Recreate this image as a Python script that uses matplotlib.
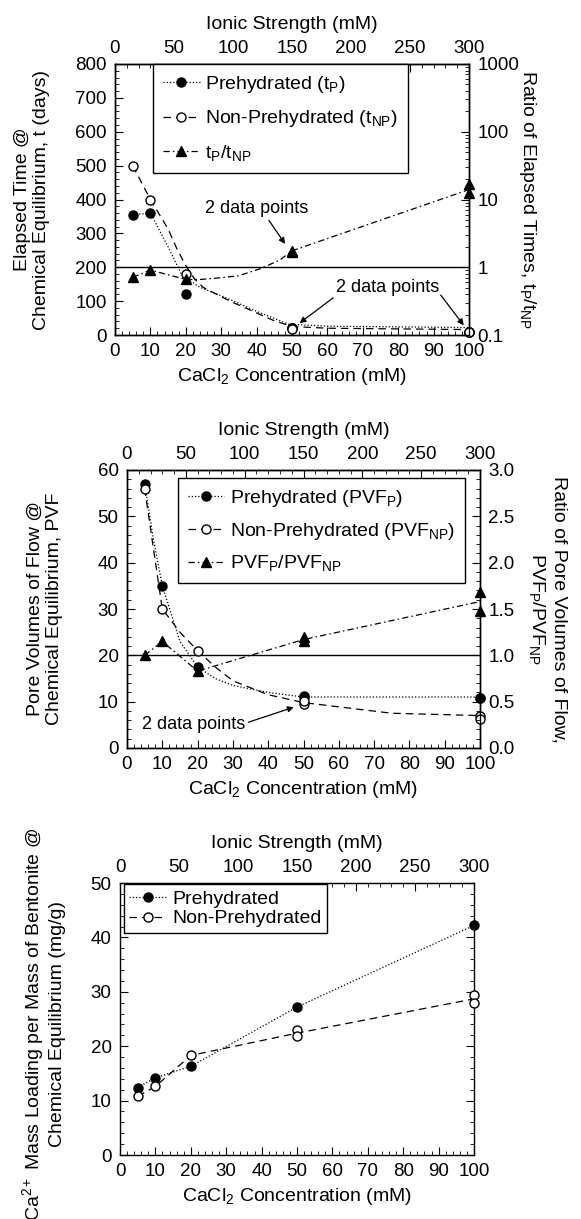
import matplotlib
matplotlib.use('Agg')
import matplotlib.pyplot as plt
from matplotlib.lines import Line2D
from matplotlib.ticker import MultipleLocator, LogLocator, NullFormatter, FuncFormatter, FormatStrFormatter

plt.rcParams['font.family'] = ['Liberation Sans', 'DejaVu Sans']
plt.rcParams['mathtext.fontset'] = 'custom'
plt.rcParams['mathtext.rm'] = 'Liberation Sans'
plt.rcParams['mathtext.it'] = 'Liberation Sans'
plt.rcParams['mathtext.default'] = 'regular'

# ---------------- data ----------------
# Panel 1: elapsed time (days) and ratio
t_x = [5, 10, 20, 50, 50, 100, 100]
t_p = [355, 360, 120, 22, 20, 10, 9]
t_np = [500, 400, 180, 20, 18, 9, 8]
t_ratio = [0.71, 0.91, 0.68, 1.75, 1.70, 17, 12.5]
# fitted curves
t_p_fit_x = [5, 10, 15, 19, 24, 32, 40, 49, 60, 80, 100]
t_p_fit_y = [355, 360, 260, 175, 141, 107, 70, 32, 26, 24, 22]
t_np_fit_x = [5, 10, 15, 17.5, 20, 22.5, 25, 32.5, 40, 45, 50, 60, 80, 100]
t_np_fit_y = [500, 400, 313, 254, 205, 165, 140, 100, 65, 42, 25, 20, 18, 16]
t_r_fit_x = [5, 10, 20, 24, 30, 35, 41, 46.6, 50, 100]
t_r_fit_y = [0.71, 0.91, 0.66, 0.66, 0.70, 0.75, 0.95, 1.28, 1.75, 14]

# Panel 2: pore volumes of flow and ratio
pvf_x = [5, 10, 20, 50, 50, 100, 100]
pvf_p = [57, 35, 17.5, 11.2, 11.0, 10.8, 10.8]
pvf_np = [56, 30, 21, 9.5, 10.2, 7.0, 6.2]
pvf_ratio = [1.0, 1.15, 0.83, 1.2, 1.15, 1.68, 1.48]
pvf_p_fit_x = [5, 7.5, 10, 15, 20, 25, 30, 40, 50, 100]
pvf_p_fit_y = [57, 45, 35, 23, 17.5, 15, 13.5, 12, 11, 11]
pvf_np_fit_x = [5, 10, 15, 20, 25, 30, 40, 50, 75, 100]
pvf_np_fit_y = [56, 30, 25, 21, 17.5, 14.5, 11.5, 9.8, 7.5, 7]
pvf_r_fit_x = [5, 10, 20, 50, 100]
pvf_r_fit_y = [1.0, 1.15, 0.83, 1.17, 1.58]

# Panel 3: Ca2+ mass loading
ca_p_x = [5, 10, 20, 50, 100]
ca_p = [12.4, 14.2, 16.3, 27.2, 42.2]
ca_np_x = [5, 10, 20, 50, 50, 100, 100]
ca_np = [10.8, 12.6, 18.3, 23.0, 21.9, 29.5, 28.0]
ca_np_fit_x = [5, 10, 20, 50, 100]
ca_np_fit_y = [10.8, 12.6, 18.3, 22.4, 28.7]

ionic_ticks = [0, 50, 100, 150, 200, 250, 300]

# ---------------- style ----------------
TICK = 13.5
LAB = 14
LW = 0.9
DOT = (0, (1, 1.6))
DASH = (0, (6, 4))
DASHDOT = (0, (5, 2.5, 1.2, 2.5))
MS = 6.5


def style(ax):
    ax.tick_params(which='both', direction='in', labelsize=TICK, pad=6)
    ax.tick_params(which='major', length=6, width=0.8)
    ax.tick_params(which='minor', length=3, width=0.6)
    for s in ax.spines.values():
        s.set_linewidth(1.0)


def add_ionic_axis(ax):
    sec = ax.secondary_xaxis('top', functions=(lambda x: 3 * x, lambda x: x / 3))
    sec.set_xticks(ionic_ticks)
    sec.xaxis.set_minor_locator(MultipleLocator(10))
    sec.tick_params(which='both', direction='in', labelsize=TICK, pad=5)
    sec.tick_params(which='major', length=6)
    sec.tick_params(which='minor', length=3)
    sec.set_xlabel('Ionic Strength (mM)', fontsize=LAB, labelpad=8)
    return sec


def base_x(ax):
    ax.set_xlim(0, 100)
    ax.xaxis.set_major_locator(MultipleLocator(10))
    ax.xaxis.set_minor_locator(MultipleLocator(2))
    ax.set_xlabel('CaCl$_2$ Concentration (mM)', fontsize=LAB, labelpad=4)
    ax.tick_params(top=False)


fig = plt.figure(figsize=(5.81, 12.19), dpi=100)
W, H = 581.0, 1219.0


def axes_px(x0, x1, y0, y1):
    return fig.add_axes([x0 / W, 1 - y1 / H, (x1 - x0) / W, (y1 - y0) / H])


# ================= Panel 1 =================
ax1 = axes_px(115, 469, 64, 335)
style(ax1)
base_x(ax1)
ax1.set_ylim(0, 800)
ax1.yaxis.set_major_locator(MultipleLocator(100))
ax1.yaxis.set_minor_locator(MultipleLocator(20))
ax1.tick_params(right=False)
ax1.axhline(200, color='black', lw=1.0)
ax1.plot(t_p_fit_x, t_p_fit_y, color='black', lw=LW, ls=DOT)
ax1.plot(t_np_fit_x, t_np_fit_y, color='black', lw=LW, ls=DASH)
ax1.plot(t_x, t_p, 'o', color='black', ms=MS, clip_on=False, zorder=5)
ax1.plot(t_x, t_np, 'o', mfc='white', mec='black', mew=1.0, ms=MS, clip_on=False, zorder=6)
ax1.set_ylabel('Elapsed Time @\nChemical Equilibrium, t (days)', fontsize=LAB, va='center')
ax1.yaxis.set_label_coords(-0.235, 0.5)
add_ionic_axis(ax1)

ax1r = ax1.twinx()
ax1r.set_yscale('log')
ax1r.set_ylim(0.1, 1000)
style(ax1r)
ax1r.yaxis.set_major_locator(LogLocator(base=10, numticks=10))
ax1r.yaxis.set_minor_locator(LogLocator(base=10, subs=range(2, 10), numticks=20))
ax1r.yaxis.set_minor_formatter(NullFormatter())
ax1r.yaxis.set_major_formatter(FuncFormatter(lambda v, p: '%g' % v))
ax1r.plot(t_r_fit_x, t_r_fit_y, color='black', lw=LW, ls=DASHDOT)
ax1r.plot(t_x, t_ratio, '^', color='black', ms=MS, clip_on=False, zorder=5)
ax1r.set_ylabel('Ratio of Elapsed Times, t$_P$/t$_{NP}$', fontsize=LAB,
                rotation=270, va='center')
ax1r.yaxis.set_label_coords(1.165, 0.5)

h1 = [Line2D([], [], color='black', ls=DOT, lw=LW, marker='o', ms=MS),
      Line2D([], [], color='black', ls=DASH, lw=LW, marker='o', mfc='white', ms=MS),
      Line2D([], [], color='black', ls=DASHDOT, lw=LW, marker='^', ms=MS)]
leg1 = ax1r.legend(h1, ['Prehydrated (t$_P$)', 'Non-Prehydrated (t$_{NP}$)', 't$_P$/t$_{NP}$'],
                   loc='upper left', bbox_to_anchor=(0.107, 1.0), borderaxespad=0,
                   fontsize=LAB, frameon=True, fancybox=False, edgecolor='black',
                   handlelength=1.9, handletextpad=0.3, labelspacing=0.7,
                   borderpad=0.5, framealpha=1)
leg1.get_frame().set_linewidth(1.0)

arrow = dict(arrowstyle='-|>', color='black', lw=0.9, shrinkA=0, shrinkB=2, mutation_scale=9)
ax1.annotate('2 data points', xy=(48.5, 262), xytext=(40, 372), fontsize=13,
             ha='center', va='center', arrowprops=dict(arrow, relpos=(0.6, 0.0)))
ax1.annotate('2 data points', xy=(51.5, 30), xytext=(77, 141), fontsize=13,
             ha='center', va='center', arrowprops=dict(arrow, relpos=(0.0, 0.0)))
ax1.annotate('', xy=(99, 22), xytext=(92, 118), arrowprops=arrow, annotation_clip=False)

# ================= Panel 2 =================
ax2 = axes_px(127, 480, 470, 748)
style(ax2)
base_x(ax2)
ax2.set_ylim(0, 60)
ax2.yaxis.set_major_locator(MultipleLocator(10))
ax2.yaxis.set_minor_locator(MultipleLocator(2))
ax2.tick_params(right=False)
ax2.axhline(20, color='black', lw=1.0)
ax2.plot(pvf_p_fit_x, pvf_p_fit_y, color='black', lw=LW, ls=DOT)
ax2.plot(pvf_np_fit_x, pvf_np_fit_y, color='black', lw=LW, ls=DASH)
ax2.plot(pvf_x, pvf_p, 'o', color='black', ms=MS, clip_on=False, zorder=5)
ax2.plot(pvf_x, pvf_np, 'o', mfc='white', mec='black', mew=1.0, ms=MS, clip_on=False, zorder=6)
ax2.set_ylabel('Pore Volumes of Flow @\nChemical Equilibrium, PVF', fontsize=LAB, va='center')
ax2.yaxis.set_label_coords(-0.232, 0.5)
add_ionic_axis(ax2)

ax2r = ax2.twinx()
ax2r.set_ylim(0, 3.0)
style(ax2r)
ax2r.yaxis.set_major_locator(MultipleLocator(0.5))
ax2r.yaxis.set_minor_locator(MultipleLocator(0.1))
ax2r.yaxis.set_major_formatter(FormatStrFormatter('%.1f'))
ax2r.plot(pvf_r_fit_x, pvf_r_fit_y, color='black', lw=LW, ls=DASHDOT)
ax2r.plot(pvf_x, pvf_ratio, '^', color='black', ms=MS, clip_on=False, zorder=5)
ax2r.set_ylabel('Ratio of Pore Volumes of Flow,\nPVF$_P$/PVF$_{NP}$', fontsize=LAB,
                rotation=270, va='center')
ax2r.yaxis.set_label_coords(1.19, 0.5)

h2 = [Line2D([], [], color='black', ls=DOT, lw=LW, marker='o', ms=MS),
      Line2D([], [], color='black', ls=DASH, lw=LW, marker='o', mfc='white', ms=MS),
      Line2D([], [], color='black', ls=DASHDOT, lw=LW, marker='^', ms=MS)]
leg2 = ax2r.legend(h2, ['Prehydrated (PVF$_P$)', 'Non-Prehydrated (PVF$_{NP}$)', 'PVF$_P$/PVF$_{NP}$'],
                   loc='upper left', bbox_to_anchor=(0.144, 0.97), borderaxespad=0,
                   fontsize=LAB, frameon=True, fancybox=False, edgecolor='black',
                   handlelength=1.9, handletextpad=0.3, labelspacing=0.6,
                   borderpad=0.5, framealpha=1)
leg2.get_frame().set_linewidth(1.0)
ax2.annotate('2 data points', xy=(48, 9.0), xytext=(19, 5.0), fontsize=13,
             ha='center', va='center', arrowprops=dict(arrow, relpos=(1.0, 0.6)))

# ================= Panel 3 =================
ax3 = axes_px(120, 474, 883, 1155)
style(ax3)
base_x(ax3)
ax3.set_ylim(0, 50)
ax3.yaxis.set_major_locator(MultipleLocator(10))
ax3.yaxis.set_minor_locator(MultipleLocator(2))
ax3.tick_params(right=True, which='both')
ax3.plot(ca_p_x, ca_p, color='black', lw=LW, ls=DOT)
ax3.plot(ca_np_fit_x, ca_np_fit_y, color='black', lw=LW, ls=DASH)
ax3.plot(ca_p_x, ca_p, 'o', color='black', ms=MS, clip_on=False, zorder=5)
ax3.plot(ca_np_x, ca_np, 'o', mfc='white', mec='black', mew=1.0, ms=MS, clip_on=False, zorder=6)
ax3.set_ylabel('Ca$^{2+}$ Mass Loading per Mass of Bentonite @\nChemical Equilibrium (mg/g)',
               fontsize=LAB, va='center')
ax3.yaxis.set_label_coords(-0.218, 0.48)
add_ionic_axis(ax3)

h3 = [Line2D([], [], color='black', ls=DOT, lw=LW, marker='o', ms=MS),
      Line2D([], [], color='black', ls=DASH, lw=LW, marker='o', mfc='white', ms=MS)]
leg3 = ax3.legend(h3, ['Prehydrated', 'Non-Prehydrated'],
                  loc='upper left', bbox_to_anchor=(0.01, 0.995), borderaxespad=0,
                  fontsize=LAB, frameon=True, fancybox=False, edgecolor='black',
                  handlelength=1.9, handletextpad=0.3, labelspacing=0.1,
                  borderpad=0.3, framealpha=1)
leg3.get_frame().set_linewidth(1.0)

fig.savefig('out.png', dpi=100)
